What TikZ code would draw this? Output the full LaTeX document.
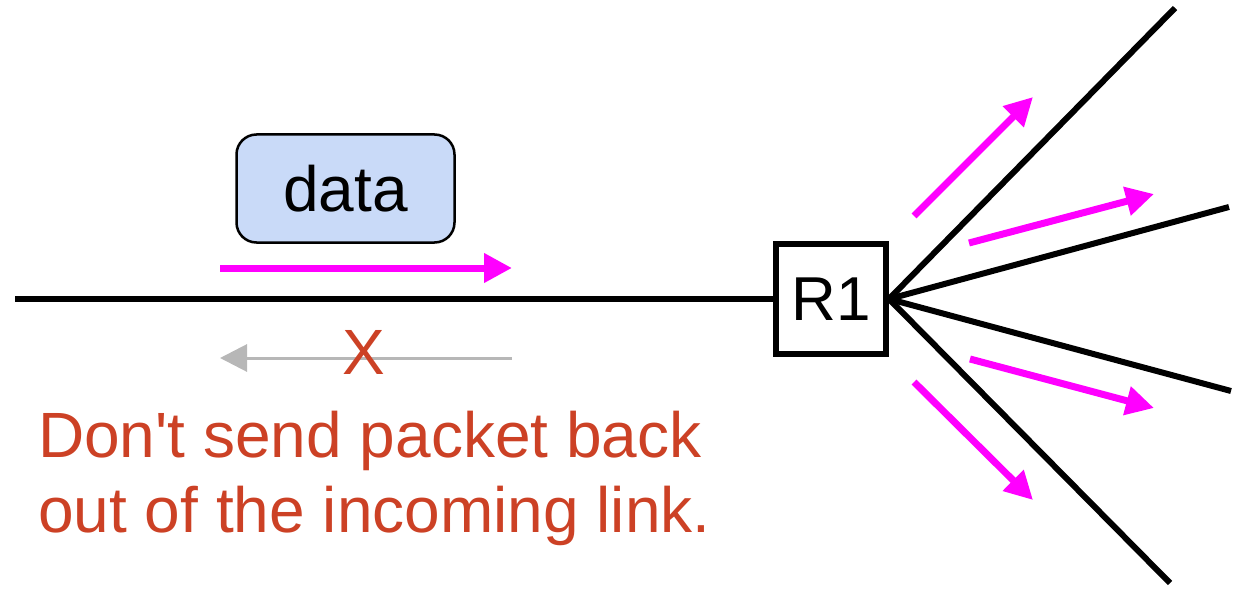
\documentclass[tikz,border=0pt]{standalone}
\usepackage{fontspec}
\setmainfont{Liberation Sans}
\usepackage{tikz}
\usetikzlibrary{arrows.meta}

\definecolor{pktmagenta}{HTML}{FF00FF}
\definecolor{droptext}{HTML}{CC4125}
\definecolor{datafill}{HTML}{C9DAF8}
\definecolor{backgray}{HTML}{B7B7B7}

\begin{document}
\begin{tikzpicture}[x=1pt,y=-1pt,
        link/.style={line width=6pt,black},
        flow/.style={line width=7pt,pktmagenta,-{Triangle[length=28pt,width=28pt]}},
        router/.style={draw,line width=6pt,minimum size=110pt,inner sep=0pt,font=\fontsize{62}{75}\selectfont},
        bigtext/.style={font=\fontsize{64}{75}\selectfont,inner sep=0pt}]
    \useasboundingbox (0,0) rectangle (1237,591);
    % router and its links
    \node[router] (R1) at (831,299) {R1};
    \coordinate (in) at (15,299);
    \coordinate (out1) at (1175,8);
    \coordinate (out2) at (1229,207);
    \coordinate (out3) at (1231,391);
    \coordinate (out4) at (1170,583);
    \draw[link] (in) -- (R1.west);
    \foreach \name in {out1,out2,out3,out4}
        \draw[link] (R1.east) -- (\name);
    % packet
    \node[draw,line width=2.5pt,fill=datafill,rounded corners=20pt,minimum width=218pt,minimum height=108pt,bigtext] (data) at (345.5,188.5) {data};
    \coordinate (fwd1) at (220,268);
    \coordinate (fwd2) at (512,268);
    \draw[flow] (fwd1) -- (fwd2);
    % flooded copies
    \coordinate (a1) at (914,216);  \coordinate (b1) at (1033,97);
    \coordinate (a2) at (969,243);  \coordinate (b2) at (1154,194);
    \coordinate (a3) at (970,359);  \coordinate (b3) at (1154,408);
    \coordinate (a4) at (914,382);  \coordinate (b4) at (1033,500);
    \draw[flow] (a1) -- (b1);
    \draw[flow] (a2) -- (b2);
    \draw[flow] (a3) -- (b3);
    \draw[flow] (a4) -- (b4);
    % not sent back
    \coordinate (back1) at (512,358);
    \coordinate (back2) at (220,358);
    \draw[line width=3pt,backgray,-{Triangle[length=27pt,width=27pt]}] (back1) -- (back2);
    \node[bigtext,text=droptext,anchor=base] (X) at (364,374) {X};
    \node[bigtext,text=droptext,anchor=base west] (line1) at (38,457) {Don\textquotesingle t send packet back};
    \node[bigtext,text=droptext,anchor=base west] (line2) at (38,532) {out of the incoming link.};
\end{tikzpicture}
\end{document}
